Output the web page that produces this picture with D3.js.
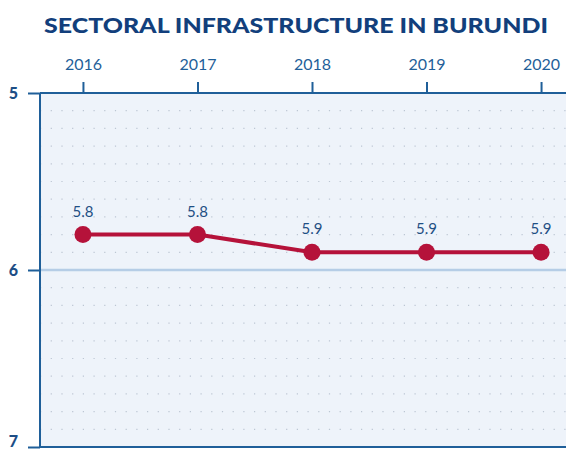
<!DOCTYPE html>
<html>
<head>
<meta charset="utf-8">
<script src="https://cdn.jsdelivr.net/npm/d3@7"></script>
<style>
  body { margin: 0; background: #fff; }
  svg { display: block; }
</style>
</head>
<body>
<div class="chart"></div>
<script>
var years = ['2016', '2017', '2018', '2019', '2020'];
var ranks = [5.8, 5.8, 5.9, 5.9, 5.9];
var labels = ['5.8', '5.8', '5.9', '5.9', '5.9'];
var yTicks = [5, 6, 7];

var svgWidth = 566;
var svgHeight = 449;
var margin = { top: 93, left: 40 };
var width = 544;
var height = 354;

var svg = d3.select('.chart')
  .append('svg')
  .attr('width', svgWidth)
  .attr('height', svgHeight);

svg.append('text')
  .attr('x', 296)
  .attr('y', 33)
  .attr('text-anchor', 'middle')
  .attr('textLength', 504)
  .attr('lengthAdjust', 'spacingAndGlyphs')
  .style('font-family', 'Lato')
  .style('font-weight', 900)
  .style('font-size', '21px')
  .attr('fill', '#123f7c')
  .text('SECTORAL INFRASTRUCTURE IN BURUNDI');

var chart = svg.append('g')
  .attr('transform', 'translate(' + margin.left + ',' + margin.top + ')');

var x = d3.scalePoint().domain(years).range([0, width]).padding(0.375);
var y = d3.scaleLinear().domain([5, 7]).range([0, height]);

// plot background
chart.append('rect')
  .attr('width', width)
  .attr('height', height)
  .attr('fill', '#eef3fa');

// dotted minor grid
var minor = d3.range(51, 70).map(function(d) { return d / 10; }).filter(function(d) { return Math.abs(d - 6) > 0.01; });
chart.selectAll('.minor')
  .data(minor)
  .enter()
  .append('line')
  .attr('class', 'minor')
  .attr('x1', 0)
  .attr('x2', width)
  .attr('y1', function(d) { return y(d); })
  .attr('y2', function(d) { return y(d); })
  .attr('stroke', '#bcc6d3')
  .attr('stroke-width', 1.2)
  .attr('stroke-dasharray', '1.2,9.5');

// reference line at 6
chart.append('line')
  .attr('x1', 0)
  .attr('x2', width)
  .attr('y1', y(6))
  .attr('y2', y(6))
  .attr('stroke', '#b5cde6')
  .attr('stroke-width', 2.5);

// top axis
var topAxis = d3.axisTop(x).tickSize(11).tickPadding(12);
var gx = chart.append('g').call(topAxis);
gx.select('.domain').attr('stroke', '#1f5f99').attr('stroke-width', 2).attr('d', 'M0,0H' + width);
gx.selectAll('.tick line').attr('stroke', '#1f5f99').attr('stroke-width', 2);
gx.selectAll('.tick text')
  .attr('fill', '#1f5f99')
  .style('font-family', 'Lato')
  .style('font-size', '16px');

// left axis
var leftAxis = d3.axisLeft(y).tickValues(yTicks).tickSize(12).tickPadding(10).tickFormat(d3.format('d'));
var gy = chart.append('g').call(leftAxis);
gy.select('.domain').attr('stroke', '#1f5f99').attr('stroke-width', 2).attr('d', 'M0,0V' + height);
gy.selectAll('.tick line').attr('stroke', '#1f5f99').attr('stroke-width', 2);
gy.selectAll('.tick text')
  .attr('fill', '#1d4e86')
  .style('font-family', 'Lato')
  .style('font-weight', 900)
  .style('font-size', '16px');
// last label sits at the bottom edge; lift it so it stays inside the picture
gy.selectAll('.tick text')
  .filter(function(d) { return d === 7; })
  .attr('dy', '-0.05em');

// bottom edge
chart.append('line')
  .attr('x1', 0).attr('x2', width)
  .attr('y1', height).attr('y2', height)
  .attr('stroke', '#1f5f99').attr('stroke-width', 2);

var line = d3.line()
  .x(function(d, i) { return x(years[i]); })
  .y(function(d) { return y(d); });

chart.append('path')
  .datum(ranks)
  .attr('d', line)
  .attr('fill', 'none')
  .attr('stroke', '#b5123a')
  .attr('stroke-width', 4);

chart.selectAll('circle')
  .data(ranks)
  .enter()
  .append('circle')
  .attr('cx', function(d, i) { return x(years[i]); })
  .attr('cy', function(d) { return y(d); })
  .attr('r', 8.5)
  .attr('fill', '#b5123a');

chart.selectAll('.val')
  .data(ranks)
  .enter()
  .append('text')
  .attr('class', 'val')
  .attr('x', function(d, i) { return x(years[i]); })
  .attr('y', function(d) { return y(d) - 18; })
  .attr('text-anchor', 'middle')
  .attr('fill', '#1f4f84')
  .style('font-family', 'Lato')
  .style('font-size', '15px')
  .text(function(d, i) { return labels[i]; });
</script>
</body>
</html>
